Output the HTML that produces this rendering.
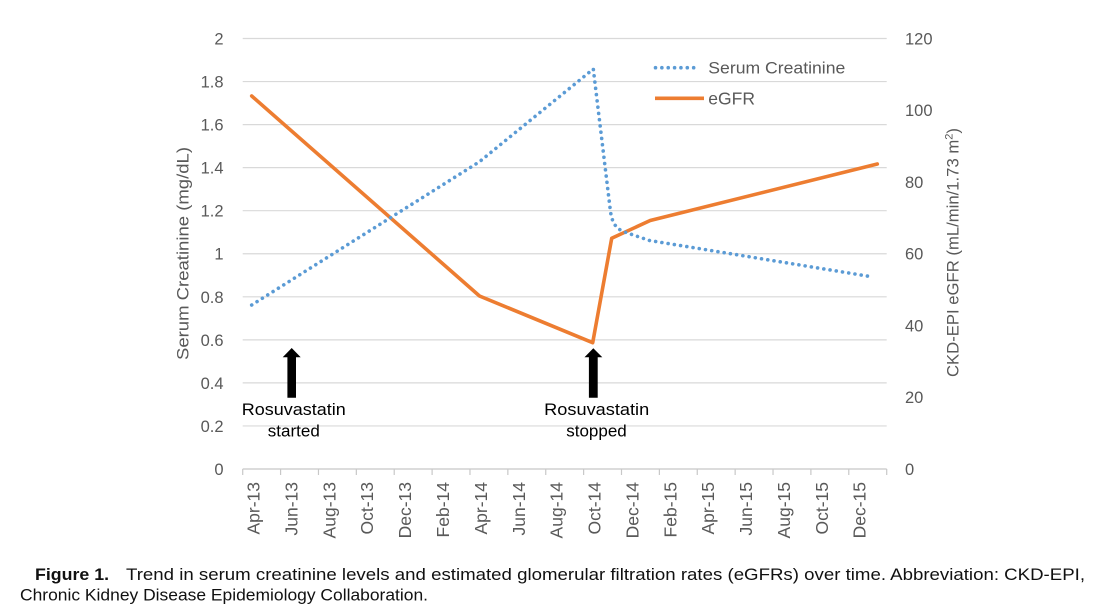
<!DOCTYPE html>
<html>
<head>
<meta charset="utf-8">
<style>
html,body{margin:0;padding:0;background:#fff;}
svg{display:block;}
</style>
</head>
<body>
<svg width="1120" height="612" viewBox="0 0 1120 612" xmlns="http://www.w3.org/2000/svg">
<rect x="0" y="0" width="1120" height="612" fill="#fff"/>
<!-- gridlines -->
<g stroke="#d9d9d9" stroke-width="1.2">
<line x1="242.7" y1="38.5" x2="886.7" y2="38.5"/>
<line x1="242.7" y1="81.55" x2="886.7" y2="81.55"/>
<line x1="242.7" y1="124.6" x2="886.7" y2="124.6"/>
<line x1="242.7" y1="167.65" x2="886.7" y2="167.65"/>
<line x1="242.7" y1="210.7" x2="886.7" y2="210.7"/>
<line x1="242.7" y1="253.75" x2="886.7" y2="253.75"/>
<line x1="242.7" y1="296.8" x2="886.7" y2="296.8"/>
<line x1="242.7" y1="339.85" x2="886.7" y2="339.85"/>
<line x1="242.7" y1="382.9" x2="886.7" y2="382.9"/>
<line x1="242.7" y1="425.95" x2="886.7" y2="425.95"/>
</g>
<!-- x axis -->
<g stroke="#c8c8c8" stroke-width="1.2">
<line x1="242.7" y1="469" x2="886.7" y2="469"/>
<line x1="242.7" y1="469" x2="242.7" y2="475"/>
<line x1="280.58" y1="469" x2="280.58" y2="475"/>
<line x1="318.46" y1="469" x2="318.46" y2="475"/>
<line x1="356.34" y1="469" x2="356.34" y2="475"/>
<line x1="394.22" y1="469" x2="394.22" y2="475"/>
<line x1="432.1" y1="469" x2="432.1" y2="475"/>
<line x1="469.98" y1="469" x2="469.98" y2="475"/>
<line x1="507.86" y1="469" x2="507.86" y2="475"/>
<line x1="545.74" y1="469" x2="545.74" y2="475"/>
<line x1="583.62" y1="469" x2="583.62" y2="475"/>
<line x1="621.5" y1="469" x2="621.5" y2="475"/>
<line x1="659.38" y1="469" x2="659.38" y2="475"/>
<line x1="697.26" y1="469" x2="697.26" y2="475"/>
<line x1="735.14" y1="469" x2="735.14" y2="475"/>
<line x1="773.02" y1="469" x2="773.02" y2="475"/>
<line x1="810.9" y1="469" x2="810.9" y2="475"/>
<line x1="848.78" y1="469" x2="848.78" y2="475"/>
<line x1="886.7" y1="469" x2="886.7" y2="475"/>
</g>
<!-- left tick labels -->
<g font-family="Liberation Sans, sans-serif" font-size="16.5" fill="#595959" text-anchor="end">
<text x="223.5" y="44.5">2</text>
<text x="223.5" y="87.5">1.8</text>
<text x="223.5" y="130.6">1.6</text>
<text x="223.5" y="173.6">1.4</text>
<text x="223.5" y="216.7">1.2</text>
<text x="223.5" y="259.7">1</text>
<text x="223.5" y="302.8">0.8</text>
<text x="223.5" y="345.8">0.6</text>
<text x="223.5" y="388.9">0.4</text>
<text x="223.5" y="431.9">0.2</text>
<text x="223.5" y="475">0</text>
</g>
<!-- right tick labels -->
<g font-family="Liberation Sans, sans-serif" font-size="16.5" fill="#595959" text-anchor="start">
<text x="905" y="44.5">120</text>
<text x="905" y="116.2">100</text>
<text x="905" y="188">80</text>
<text x="905" y="259.7">60</text>
<text x="905" y="331.5">40</text>
<text x="905" y="403.2">20</text>
<text x="905" y="475">0</text>
</g>
<!-- x tick labels -->
<g font-family="Liberation Sans, sans-serif" font-size="17.5" fill="#595959" text-anchor="end">
<text transform="translate(259.6,482) rotate(-90)">Apr-13</text>
<text transform="translate(297.5,482) rotate(-90)">Jun-13</text>
<text transform="translate(335.4,482) rotate(-90)">Aug-13</text>
<text transform="translate(373.2,482) rotate(-90)">Oct-13</text>
<text transform="translate(411.1,482) rotate(-90)">Dec-13</text>
<text transform="translate(449.0,482) rotate(-90)">Feb-14</text>
<text transform="translate(486.9,482) rotate(-90)">Apr-14</text>
<text transform="translate(524.8,482) rotate(-90)">Jun-14</text>
<text transform="translate(562.6,482) rotate(-90)">Aug-14</text>
<text transform="translate(600.5,482) rotate(-90)">Oct-14</text>
<text transform="translate(638.4,482) rotate(-90)">Dec-14</text>
<text transform="translate(676.3,482) rotate(-90)">Feb-15</text>
<text transform="translate(714.2,482) rotate(-90)">Apr-15</text>
<text transform="translate(752.0,482) rotate(-90)">Jun-15</text>
<text transform="translate(789.9,482) rotate(-90)">Aug-15</text>
<text transform="translate(827.8,482) rotate(-90)">Oct-15</text>
<text transform="translate(865.7,482) rotate(-90)">Dec-15</text>
</g>
<!-- axis titles -->
<g font-family="Liberation Sans, sans-serif" font-size="16.5" fill="#595959">
<text transform="translate(188.5,360) rotate(-90)" textLength="213" lengthAdjust="spacingAndGlyphs">Serum Creatinine (mg/dL)</text>
<text transform="translate(958.3,377) rotate(-90)" textLength="249" lengthAdjust="spacingAndGlyphs">CKD-EPI eGFR (mL/min/1.73 m<tspan dy="-6" font-size="11">2</tspan><tspan dy="6">)</tspan></text>
</g>
<!-- eGFR series -->
<polyline fill="none" stroke="#ED7D31" stroke-width="3.6" stroke-linejoin="round" stroke-linecap="round"
 points="251.7,96 479.5,296 592.7,342.7 611.7,238.3 650.2,220.5 877.3,164"/>
<!-- Serum creatinine series -->
<path fill="none" stroke="#5B9BD5" stroke-width="3.6" stroke-linecap="round" stroke-dasharray="0.01 6.3"
 d="M251.7,305 L479.5,161.7 L593.3,69 L610.3,210 C611.8,223 616,228.5 624,231.8 L649.5,240.5 L873.3,277"/>
<!-- legend -->
<line x1="655.5" y1="67.7" x2="700" y2="67.7" stroke="#5B9BD5" stroke-width="3.6" stroke-linecap="round" stroke-dasharray="0.01 6.35"/>
<line x1="655" y1="98.3" x2="704" y2="98.3" stroke="#ED7D31" stroke-width="3.6"/>
<g font-family="Liberation Sans, sans-serif" font-size="16.5" fill="#595959">
<text x="708.3" y="73.5" textLength="137" lengthAdjust="spacingAndGlyphs">Serum Creatinine</text>
<text x="708.3" y="104.5" font-size="17.5">eGFR</text>
</g>
<!-- arrows -->
<polygon fill="#000" points="291.7,348 300.7,357.3 296,357.3 296,397.7 287.4,397.7 287.4,357.3 282.7,357.3"/>
<polygon fill="#000" points="593.3,348.3 602.3,357.3 597.7,357.3 597.7,397.7 588.9,397.7 588.9,357.3 584.5,357.3"/>
<!-- annotations -->
<g font-family="Liberation Sans, sans-serif" font-size="17" fill="#000" text-anchor="middle">
<text x="293.8" y="415" textLength="104" lengthAdjust="spacingAndGlyphs">Rosuvastatin</text>
<text x="293.8" y="436.7">started</text>
<text x="596.7" y="415" textLength="105" lengthAdjust="spacingAndGlyphs">Rosuvastatin</text>
<text x="596.5" y="436.7">stopped</text>
</g>
<!-- caption -->
<g font-family="Liberation Sans, Arial, sans-serif" font-size="16.5" fill="#111">
<text x="35" y="580" font-weight="bold" textLength="74" lengthAdjust="spacingAndGlyphs">Figure 1.</text>
<text x="126" y="580" textLength="959" lengthAdjust="spacingAndGlyphs">Trend in serum creatinine levels and estimated glomerular filtration rates (eGFRs) over time. Abbreviation: CKD-EPI,</text>
<text x="20" y="600.5" textLength="408" lengthAdjust="spacingAndGlyphs">Chronic Kidney Disease Epidemiology Collaboration.</text>
</g>
</svg>
</body>
</html>
